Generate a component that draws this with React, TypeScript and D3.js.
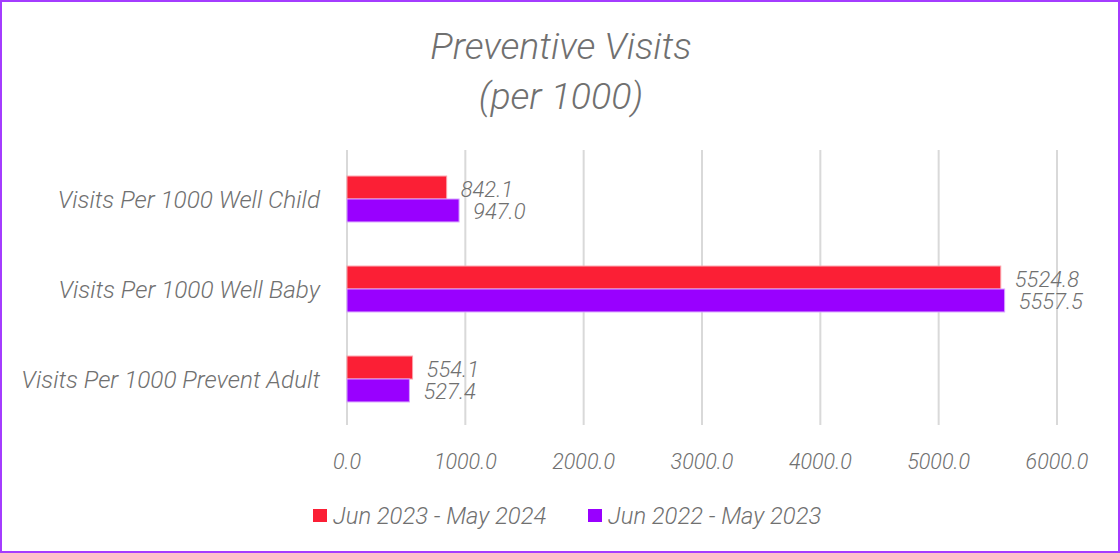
import React, { useEffect, useRef } from 'react';
import * as d3 from 'd3';

const categories = ['Visits Per 1000 Well Child', 'Visits Per 1000 Well Baby', 'Visits Per 1000 Prevent Adult'];
const seriesNames = ['Jun 2023 - May 2024', 'Jun 2022 - May 2023'];
const currentPeriod = [842.1, 5524.8, 554.1];
const priorPeriod = [947.0, 5557.5, 527.4];
const xTicks = [0, 1000, 2000, 3000, 4000, 5000, 6000];
const colors = ['#fb1f35', '#9900ff'];

const W = 1120;
const H = 553;
const FONT = 'Roboto, "Liberation Sans", sans-serif';
const TEXT = '#707070';

const App: React.FC = () => {
  const svgRef = useRef<SVGSVGElement>(null);

  useEffect(() => {
    if (!svgRef.current) return;
    const svg = d3.select(svgRef.current);
    svg.selectAll('*').remove();

    svg.append('rect').attr('width', W).attr('height', H).attr('fill', '#fff');
    svg.append('rect')
      .attr('x', 1).attr('y', 1).attr('width', W - 2).attr('height', H - 2)
      .attr('fill', 'none').attr('stroke', '#a43cff').attr('stroke-width', 2);

    // title
    const title = svg.append('text')
      .attr('text-anchor', 'middle')
      .attr('font-family', FONT).attr('font-style', 'italic').attr('font-weight', 300)
      .attr('font-size', 37.5).attr('fill', TEXT);
    title.append('tspan').attr('x', 561).attr('y', 59).text('Preventive Visits');
    title.append('tspan').attr('x', 561).attr('y', 109).text('(per 1000)');

    const plot = { left: 347, right: 1057, top: 150, bottom: 425 };

    const x = d3.scaleLinear().domain([0, 6000]).range([plot.left, plot.right]);
    const y = d3.scaleBand().domain(categories).range([plot.top + 4, plot.bottom - 1]).paddingInner(0.49).paddingOuter(0.245);
    const ySub = d3.scaleBand().domain(seriesNames).range([0, y.bandwidth()]);

    // grid lines
    svg.append('g').selectAll('line').data(xTicks).enter().append('line')
      .attr('x1', d => x(d)).attr('x2', d => x(d))
      .attr('y1', plot.top).attr('y2', plot.bottom)
      .attr('stroke', '#d9d9d9').attr('stroke-width', 2);

    // tick labels
    svg.append('g').selectAll('text').data(xTicks).enter().append('text')
      .attr('x', d => x(d)).attr('y', 469)
      .attr('text-anchor', 'middle')
      .attr('font-family', FONT).attr('font-style', 'italic').attr('font-weight', 300)
      .attr('font-size', 21.5).attr('fill', TEXT)
      .text(d => d3.format('.1f')(d));

    // category labels
    svg.append('g').selectAll('text').data(categories).enter().append('text')
      .attr('x', 320).attr('y', d => (y(d) || 0) + y.bandwidth() / 2 + 9)
      .attr('text-anchor', 'end')
      .attr('font-family', FONT).attr('font-style', 'italic').attr('font-weight', 300)
      .attr('font-size', 24.3).attr('fill', TEXT)
      .text(d => d);

    const seriesValues = [currentPeriod, priorPeriod];
    seriesNames.forEach((name, si) => {
      const vals = seriesValues[si];
      const g = svg.append('g');
      g.selectAll('rect').data(categories).enter().append('rect')
        .attr('x', x(0))
        .attr('y', d => (y(d) || 0) + (ySub(name) || 0))
        .attr('width', (d, i) => x(vals[i]) - x(0))
        .attr('height', ySub.bandwidth())
        .attr('fill', colors[si])
        .attr('stroke', si === 0 ? '#fca0aa' : '#d7a3ff')
        .attr('stroke-width', 1);

      g.selectAll('text').data(categories).enter().append('text')
        .attr('x', (d, i) => x(vals[i]) + 14)
        .attr('y', d => (y(d) || 0) + (ySub(name) || 0) + ySub.bandwidth() / 2 + 9)
        .attr('font-family', FONT).attr('font-style', 'italic').attr('font-weight', 300)
        .attr('font-size', 22).attr('fill', TEXT)
        .text((d, i) => d3.format('.1f')(vals[i]));
    });

    // legend
    const legendX = [313, 588];
    seriesNames.forEach((name, si) => {
      svg.append('rect')
        .attr('x', legendX[si]).attr('y', 509).attr('width', 14).attr('height', 13)
        .attr('fill', colors[si]);
      svg.append('text')
        .attr('x', legendX[si] + 20).attr('y', 524)
        .attr('font-family', FONT).attr('font-style', 'italic').attr('font-weight', 300)
        .attr('font-size', 23.8).attr('fill', TEXT)
        .text(name);
    });
  }, []);

  return (
    <div style={{ position: 'absolute', left: 0, top: 0 }}>
      <svg ref={svgRef} width={W} height={H} style={{ display: 'block' }} />
    </div>
  );
};

export default App;
